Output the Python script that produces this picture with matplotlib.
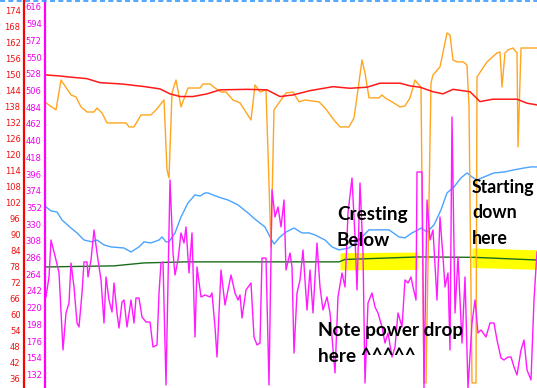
import numpy as np
import matplotlib
matplotlib.use('Agg')
import matplotlib.pyplot as plt
from matplotlib.lines import Line2D

# heart rate (red axis)
hr_t = [0, 14, 21, 41, 54, 76, 99, 114, 124, 134, 147, 161, 174, 201, 221, 234, 247, 264, 287, 304,
        321, 334, 354, 364, 374, 387, 397, 407, 424, 434, 447, 471, 481, 491]
hr = [150.0, 149.6, 149.3, 148.6, 147.1, 146.6, 145.6, 144.75, 142.9, 141.9, 141.9, 142.9, 144.4, 144.6,
      144.4, 141.9, 142.5, 144.1, 145.6, 145.0, 145.4, 146.9, 146.9, 145.9, 145.4, 143.7, 142.9, 144.6,
      143.7, 140.0, 140.9, 140.9, 139.4, 138.75]

# cadence / speed (orange, read on red axis)
cad_t = [0, 10, 15, 25, 30, 35, 41, 48, 51, 56, 61, 80, 83, 88, 95, 105, 110, 118, 121, 123, 126, 130,
         135, 142, 154, 157, 164, 169, 175, 180, 187, 194, 205, 209, 214, 220, 225, 228, 235, 240, 247,
         253, 259, 273, 279, 288, 294, 303, 308, 311, 316, 319, 323, 333, 336, 339, 346, 354, 359, 364,
         369, 372, 375, 378, 380, 385, 387, 394, 401, 404, 407, 411, 417, 421, 423, 426, 430, 431, 441,
         451, 454, 456, 459, 462, 467, 471, 472, 475, 481, 491]
cad = [139.5, 136.9, 148.1, 142.5, 141.75, 138.0, 136.1, 136.1, 137.6, 135.75, 132.0, 132.0, 130.5,
       130.5, 135.0, 135.0, 136.9, 140.6, 114.4, 111.4, 143.25, 148.1, 138.0, 145.1, 145.1, 146.6, 146.6,
       145.1, 143.6, 143.6, 140.6, 139.5, 133.1, 146.25, 143.6, 144.4, 85.5, 136.9, 140.6, 143.25, 143.6,
       139.9, 140.6, 139.9, 137.6, 133.1, 130.5, 130.5, 133.9, 141.75, 155.6, 150.75, 141.4, 141.4, 142.5,
       141.4, 139.9, 138.0, 138.4, 141.4, 148.1, 146.6, 145.5, 34.5, 34.5, 147.0, 150.0, 153.0, 165.75,
       165.0, 155.6, 154.9, 154.9, 153.75, 138.0, 34.5, 34.5, 149.25, 154.9, 158.25, 158.6, 145.5, 158.25,
       159.4, 160.1, 158.25, 123.0, 160.1, 160.1, 160.1]

# elevation (blue, read on red axis)
elev_t = [0, 5, 11, 16, 25, 31, 38, 46, 51, 58, 65, 78, 85, 93, 98, 105, 113, 116, 120, 123, 129, 135,
          142, 149, 154, 159, 162, 167, 175, 182, 192, 202, 210, 219, 224, 228, 234, 240, 248, 256, 263,
          269, 279, 286, 293, 303, 313, 323, 333, 343, 353, 359, 366, 372, 375, 381, 388, 395, 401, 408,
          415, 421, 426, 431, 438, 448, 458, 468, 478, 485, 491]
elev = [100.5, 99.0, 98.6, 95.6, 92.6, 90.75, 88.1, 87.4, 88.1, 86.25, 85.5, 85.1, 83.6, 85.5, 87.4, 87.0,
        88.1, 89.25, 87.4, 87.4, 90.75, 96.75, 102.0, 105.0, 104.6, 105.75, 105.75, 105.0, 103.9, 103.1,
        101.25, 98.25, 95.6, 93.0, 89.25, 86.6, 89.25, 91.1, 92.6, 90.75, 90.75, 90.0, 88.1, 85.5, 84.4,
        85.1, 88.1, 91.9, 91.9, 91.9, 89.25, 88.9, 90.75, 91.9, 92.6, 91.1, 93.75, 99.4, 105.75, 108.0,
        111.4, 113.25, 111.75, 110.6, 111.75, 113.25, 113.6, 114.4, 115.1, 115.5, 115.5]

# green trend (red axis)
trend_t = [0, 68, 98, 139, 248, 293, 299, 372, 428, 491]
trend = [78.0, 78.4, 79.5, 79.9, 79.9, 79.9, 80.8, 81.75, 81.6, 80.6]

# power (magenta axis)
pw_t = [0, 3, 5, 10, 13, 17, 20, 23, 25, 28, 31, 33, 36, 38, 41, 42, 45, 48, 51, 55, 58, 60, 63, 66, 68,
        71, 73, 76, 78, 81, 85, 88, 90, 93, 96, 100, 104, 107, 111, 113, 115, 117, 120, 124, 127, 129,
        132, 135, 138, 140, 143, 146, 149, 151, 155, 159, 164, 166, 169, 171, 175, 179, 185, 189, 192,
        194, 196, 200, 205, 208, 211, 214, 216, 220, 223, 226, 229, 232, 235, 238, 240, 244, 246, 248,
        251, 254, 257, 261, 264, 267, 271, 274, 277, 281, 284, 289, 292, 296, 299, 302, 306, 309, 311,
        314, 317, 319, 322, 326, 329, 332, 336, 339, 342, 346, 349, 352, 356, 359, 362, 365, 367, 370,
        371, 376, 378, 381, 384, 387, 391, 394, 397, 399, 402, 404, 406, 409, 412, 416, 419, 422, 426,
        429, 432, 435, 440, 444, 448, 451, 455, 458, 462, 465, 468, 471, 475, 478, 481, 485, 488, 491]
pw = [234.1, 260.4, 309.1, 282.8, 265.7, 164.3, 213.0, 226.2, 278.8, 247.2, 199.8, 194.6, 239.3, 280.2,
      280.2, 260.4, 282.8, 322.3, 292.0, 256.5, 199.8, 260.4, 230.1, 214.3, 252.5, 213.0, 193.2, 227.5,
      230.1, 194.6, 230.1, 199.8, 232.8, 232.8, 207.7, 201.1, 201.1, 168.2, 170.9, 239.3, 278.8, 280.2,
      118.2, 388.2, 292.0, 263.0, 282.8, 318.4, 305.2, 326.3, 265.7, 318.4, 181.4, 273.6, 234.1, 236.7,
      234.1, 239.3, 194.6, 155.0, 269.6, 223.5, 263.0, 239.3, 230.1, 236.7, 206.4, 243.3, 252.5, 181.4,
      170.9, 173.5, 285.4, 285.4, 118.2, 375.0, 339.4, 352.6, 326.3, 361.8, 269.6, 292.0, 273.6, 160.3,
      239.3, 256.5, 296.0, 216.9, 269.6, 213.0, 305.2, 247.2, 216.9, 234.1, 213.0, 134.0, 234.1, 265.7,
      247.2, 344.7, 390.8, 313.1, 243.3, 384.2, 292.0, 120.8, 226.2, 239.3, 220.9, 213.0, 194.6, 173.5,
      186.7, 155.0, 168.2, 213.0, 194.6, 256.5, 252.5, 260.4, 247.2, 230.1, 398.7, 398.7, 114.0, 361.8,
      309.1, 322.3, 230.1, 339.4, 286.7, 247.2, 265.7, 164.3, 471.1, 213.0, 286.7, 173.5, 260.4, 114.0,
      199.8, 230.1, 186.7, 190.6, 181.4, 199.8, 199.8, 177.4, 153.7, 151.1, 155.0, 155.0, 141.9, 131.3,
      164.3, 177.4, 137.9, 124.8, 230.1, 293.3]

hr_ticks = np.arange(36, 175, 6)
pw_ticks = np.arange(132, 617, 22)

fig = plt.figure(figsize=(5.37, 3.88), dpi=100)
ax = fig.add_axes([46 / 537, 0, 491 / 537, 1])
ax.set_xlim(0, 491)
ax.set_ylim(32.6, 178.1)
ax2 = ax.twinx()
ax2.set_ylim(114.2, 625.2)

# highlighter strokes
ax.fill_between([294, 372], [83.3, 83.6], [76.9, 77.1], color='#ffff00', lw=0, zorder=0.5)
ax.fill_between([426, 491], [85.1, 84.4], [77.8, 77.1], color='#ffff00', lw=0, zorder=0.5)

ax.plot(trend_t, trend, color='#1a6e1a', lw=1.0, zorder=2)
ax.plot(elev_t, elev, color='#4aa3ff', lw=1.0, zorder=2)
ax.plot(cad_t, cad, color='#ffa520', lw=1.0, zorder=2)
ax.plot(hr_t, hr, color='#ff1a1a', lw=1.1, zorder=3)
ax2.plot(pw_t, pw, color='#ff1aff', lw=1.0, zorder=2)

for a in (ax, ax2):
    a.set_xticks([])
    for s in ('top', 'right', 'bottom'):
        a.spines[s].set_visible(False)
ax.spines['left'].set_position(('axes', -22 / 491))
ax.spines['left'].set_color('#ff0000')
ax.spines['left'].set_linewidth(1.6)
ax.set_yticks(hr_ticks)
ax.tick_params(axis='y', length=0, pad=2.5, labelsize=6, labelcolor='#ee1111')

ax2.yaxis.tick_left()
ax2.spines['left'].set_visible(True)
ax2.spines['left'].set_position(('axes', -1.5 / 491))
ax2.spines['left'].set_color('#ff00ff')
ax2.spines['left'].set_linewidth(1.6)
ax2.set_yticks(pw_ticks)
ax2.tick_params(axis='y', length=0, pad=2.0, labelsize=6, labelcolor='#ee00ee')

tk = dict(fontweight='bold', family='Lato', color='black', va='top', ha='left',
          linespacing=1.6, transform=ax.transData, zorder=10)
ax2.text(291, 100.8, 'Cresting\nBelow', fontsize=13.6, **tk)
ax2.text(426, 111.0, 'Starting\ndown\nhere', fontsize=12.8, **tk)
ax2.text(272, 57.3, 'Note power drop\nhere ^^^^^', fontsize=13.6, **tk)

# selection border at the top
fig.add_artist(Line2D([0, 1], [0.998, 0.998], transform=fig.transFigure, color='#3399ff',
                      lw=1.2, ls=(0, (3, 2))))

fig.savefig('out.png', dpi=100)
